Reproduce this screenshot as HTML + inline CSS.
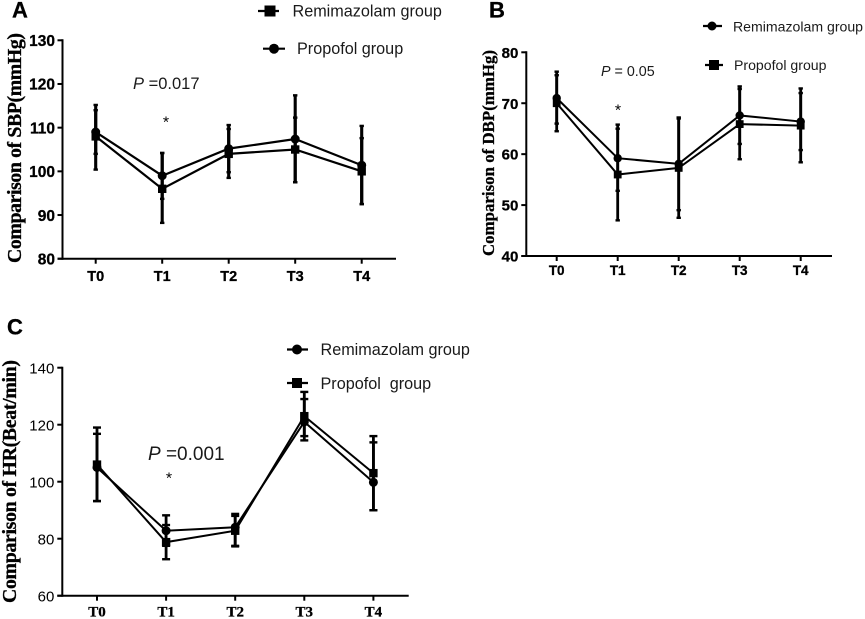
<!DOCTYPE html>
<html>
<head>
<meta charset="utf-8">
<title>Blood pressure and heart rate comparison</title>
<style>
html,body{margin:0;padding:0;background:#fff;}
svg{display:block;}
text{fill:#000;font-family:"Liberation Sans",sans-serif;}
.serif{font-family:"Liberation Serif",serif;font-weight:bold;}
.pre{white-space:pre;}
.heavy{stroke:#000;stroke-width:0.3px;}
.soft{fill:#1a1a1a;}
</style>
</head>
<body>
<svg id="figure" width="865" height="619" viewBox="0 0 865 619" xmlns="http://www.w3.org/2000/svg" xml:space="preserve">
  <text class="heavy" x="12" y="17.500" font-size="22" font-weight="bold">A</text>
  <text class="heavy" x="489" y="17.500" font-size="22" font-weight="bold">B</text>
  <text class="heavy" x="7" y="334.500" font-size="22" font-weight="bold">C</text>

  <text class="serif heavy" transform="translate(21,263) rotate(-90)" font-size="19.800" textLength="230">Comparison of SBP(mmHg)</text>
  <text class="serif heavy" transform="translate(494,256) rotate(-90)" font-size="16.800" textLength="206">Comparison of DBP(mmHg)</text>
  <text class="serif heavy" transform="translate(16,603) rotate(-90)" font-size="19.800" textLength="243">Comparison of HR(Beat/min)</text>

  <text class="soft" x="133" y="89" font-size="16.500"><tspan font-style="italic">P</tspan> =0.017</text>
  <text class="soft" x="601" y="76" font-size="14.300"><tspan font-style="italic">P</tspan> = 0.05</text>
  <text class="soft" x="148" y="460" font-size="19"><tspan font-style="italic">P</tspan> =0.001</text>

  <text x="166" y="127.500" font-size="16" text-anchor="middle">*</text>
  <text x="618" y="115.500" font-size="16" text-anchor="middle">*</text>
  <text x="169" y="483.500" font-size="16" text-anchor="middle">*</text>

  <g>
    <line x1="258" y1="11" x2="279" y2="11" stroke="#000" stroke-width="2.200"/>
    <rect x="264.500" y="5.500" width="11" height="11" fill="#000"/>
    <text class="soft" x="292.500" y="16.500" font-size="16.200">Remimazolam group</text>
    <line x1="263" y1="48.700" x2="285" y2="48.700" stroke="#000" stroke-width="2.200"/>
    <circle cx="274" cy="48.700" r="5" fill="#000"/>
    <text class="soft" x="297" y="54" font-size="16.200">Propofol group</text>
  </g>
  <g>
    <line x1="703" y1="26" x2="722" y2="26" stroke="#000" stroke-width="2.200"/>
    <circle cx="712" cy="26" r="4.500" fill="#000"/>
    <text class="soft" x="733" y="31.500" font-size="14.100">Remimazolam group</text>
    <line x1="705" y1="65" x2="723" y2="65" stroke="#000" stroke-width="2.200"/>
    <rect x="709" y="60" width="10" height="10" fill="#000"/>
    <text class="soft" x="734" y="70" font-size="14.100">Propofol group</text>
  </g>
  <g>
    <line x1="287" y1="349.500" x2="308" y2="349.500" stroke="#000" stroke-width="2.200"/>
    <circle cx="297" cy="349.500" r="5" fill="#000"/>
    <text class="soft" x="320.500" y="355" font-size="16.200">Remimazolam group</text>
    <line x1="287" y1="383" x2="308" y2="383" stroke="#000" stroke-width="2.200"/>
    <rect x="292" y="378" width="10" height="10" fill="#000"/>
    <text class="pre soft" x="320.500" y="389" font-size="16.200">Propofol  group</text>
  </g>
</svg>
<script>
var categories = ['T0', 'T1', 'T2', 'T3', 'T4'];

var sbpTicks = [80, 90, 100, 110, 120, 130];
var sbpRemimazolam = [108, 96, 104, 105, 100];
var sbpRemimazolamLow = [100.4, 88.2, 98.5, 97.5, 92.5];
var sbpRemimazolamHigh = [115.2, 104.2, 109.7, 112.3, 107.6];
var sbpPropofol = [109, 99, 105.2, 107.4, 101.4];
var sbpPropofolLow = [104, 93.7, 99.8, 97.5, 92.5];
var sbpPropofolHigh = [114, 104.2, 110.6, 117.4, 110.4];

var dbpTicks = [40, 50, 60, 70, 80];
var dbpRemimazolam = [71, 59.2, 58.1, 67.6, 66.4];
var dbpRemimazolamLow = [66, 52.8, 49, 62, 60.8];
var dbpRemimazolamHigh = [76.2, 65.8, 67.2, 73.3, 72.9];
var dbpPropofol = [70, 56, 57.3, 65.9, 65.6];
var dbpPropofolLow = [64.5, 47, 47.5, 59, 58.4];
var dbpPropofolHigh = [75.5, 65, 67, 72.8, 72];

var hrTicks = [60, 80, 100, 120, 140];
var hrRemimazolam = [105, 82.8, 84, 121, 99.8];
var hrRemimazolamLow = [93.2, 77.5, 77.5, 114.5, 90];
var hrRemimazolamHigh = [116.8, 88.2, 88.7, 129, 113.8];
var hrPropofol = [106, 78.8, 82.8, 123, 103];
var hrPropofolLow = [93.2, 72.8, 77.3, 116, 90];
var hrPropofolHigh = [119, 84.8, 88, 131.5, 116];

var NS = 'http://www.w3.org/2000/svg';
var svg = document.getElementById('figure');

function make(tag, attrs, parent) {
  var el = document.createElementNS(NS, tag);
  for (var k in attrs) { el.setAttribute(k, attrs[k]); }
  parent.appendChild(el);
  return el;
}

function drawPanel(cfg) {
  var g = make('g', {}, svg);
  
  

  var min = cfg.ticks[0];
  var max = cfg.ticks[cfg.ticks.length - 1];
  function yScale(v) { return cfg.bottom - (v - min) / (max - min) * (cfg.bottom - cfg.top); }
  function xScale(i) { return cfg.firstX + i * cfg.stepX; }

  var yAxis = make('line', {x1: cfg.left, y1: cfg.top - 1, x2: cfg.left, y2: cfg.bottom + 1, stroke: '#000', 'stroke-width': 2}, g);
  
  
  var xAxis = make('line', {x1: cfg.left - 5, y1: cfg.bottom, x2: cfg.right, y2: cfg.bottom, stroke: '#000', 'stroke-width': 2}, g);
  
  

  cfg.ticks.forEach(function (t) {
    var y = yScale(t);
    var tick = make('line', {x1: cfg.left - 5, y1: y, x2: cfg.left, y2: y, stroke: '#000', 'stroke-width': 2}, g);
    
    
    var label = make('text', {x: cfg.left - cfg.yLabelGap, y: y + cfg.yFont * 0.37, 'font-size': cfg.yFont, 'font-weight': cfg.yWeight, 'text-anchor': 'end'}, g);
    if (cfg.yWeight === 'bold') { label.setAttribute('class', 'heavy'); }
    
    
    label.textContent = t;
  });

  categories.forEach(function (c, i) {
    var x = xScale(i);
    var tick = make('line', {x1: x, y1: cfg.bottom, x2: x, y2: cfg.bottom + 5, stroke: '#000', 'stroke-width': 2}, g);
    
    
    var label = make('text', {x: x, y: cfg.xLabelY, 'font-size': cfg.xFont, 'font-weight': 'bold', 'text-anchor': 'middle'}, g);
    label.setAttribute('class', cfg.xSerif ? 'serif heavy' : 'heavy');
    
    
    label.textContent = c;
  });

  cfg.series.forEach(function (s) {
    var sg = make('g', {}, g);
    
    

    s.values.forEach(function (v, i) {
      var x = xScale(i);
      var lo = yScale(s.low[i]);
      var hi = yScale(s.high[i]);
      var bar = make('line', {x1: x, y1: lo, x2: x, y2: hi, stroke: '#000', 'stroke-width': cfg.errWidth}, sg);
      
      
      [lo, hi].forEach(function (cy) {
        var cap = make('line', {x1: x - cfg.cap, y1: cy, x2: x + cfg.cap, y2: cy, stroke: '#000', 'stroke-width': 2.4}, sg);
        
        
      });
    });

    var pts = s.values.map(function (v, i) { return xScale(i) + ',' + yScale(v); }).join(' ');
    var line = make('polyline', {points: pts, fill: 'none', stroke: '#000', 'stroke-width': cfg.lineWidth}, sg);
    
    

    s.values.forEach(function (v, i) {
      var x = xScale(i);
      var y = yScale(v);
      var m;
      if (s.marker === 'square') {
        m = make('rect', {x: x - cfg.mark, y: y - cfg.mark, width: cfg.mark * 2, height: cfg.mark * 2, fill: '#000'}, sg);
      } else {
        m = make('circle', {cx: x, cy: y, r: cfg.mark + 0.3, fill: '#000'}, sg);
      }
      
      
    });
  });
}

drawPanel({
  name: 'sbp', ticks: sbpTicks, left: 62.5, right: 396, top: 40.3, bottom: 258.7,
  firstX: 95.7, stepX: 66.5, yFont: 15.5, yWeight: 'bold', yLabelGap: 7.5,
  xFont: 14.5, xLabelY: 281, xSerif: false, cap: 2.2, errWidth: 3.1, mark: 4.2, lineWidth: 2.2,
  series: [
    {name: 'remimazolam', marker: 'square', values: sbpRemimazolam, low: sbpRemimazolamLow, high: sbpRemimazolamHigh},
    {name: 'propofol', marker: 'circle', values: sbpPropofol, low: sbpPropofolLow, high: sbpPropofolHigh}
  ]
});

drawPanel({
  name: 'dbp', ticks: dbpTicks, left: 526.3, right: 832, top: 52.3, bottom: 256,
  firstX: 556.7, stepX: 61, yFont: 15, yWeight: 'bold', yLabelGap: 8,
  xFont: 13.5, xLabelY: 275, xSerif: false, cap: 2.2, errWidth: 2.8, mark: 3.9, lineWidth: 2,
  series: [
    {name: 'remimazolam', marker: 'circle', values: dbpRemimazolam, low: dbpRemimazolamLow, high: dbpRemimazolamHigh},
    {name: 'propofol', marker: 'square', values: dbpPropofol, low: dbpPropofolLow, high: dbpPropofolHigh}
  ]
});

drawPanel({
  name: 'hr', ticks: hrTicks, left: 62.3, right: 408.7, top: 367.7, bottom: 595.7,
  firstX: 97, stepX: 69.1, yFont: 15, yWeight: 'normal', yLabelGap: 8,
  xFont: 15, xLabelY: 616.5, xSerif: true, cap: 4, errWidth: 2.8, mark: 4.2, lineWidth: 2,
  series: [
    {name: 'remimazolam', marker: 'circle', values: hrRemimazolam, low: hrRemimazolamLow, high: hrRemimazolamHigh},
    {name: 'propofol', marker: 'square', values: hrPropofol, low: hrPropofolLow, high: hrPropofolHigh}
  ]
});
</script>
</body>
</html>
